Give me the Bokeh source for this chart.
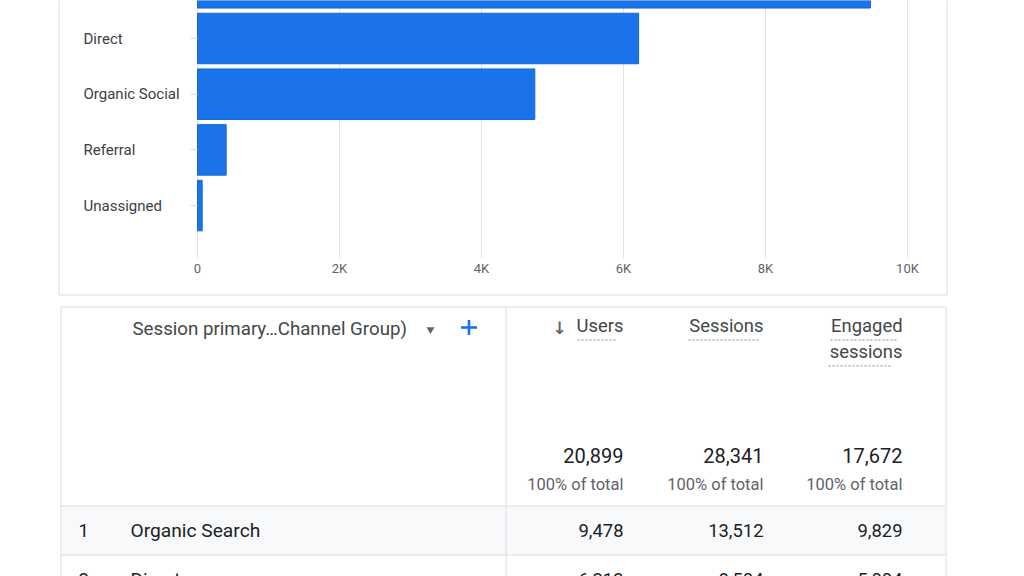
from bokeh.plotting import figure
from bokeh.models import Range1d, LinearAxis, FixedTicker, ColumnDataSource, CDSView, IndexFilter
from bokeh.core.properties import value
from bokeh.embed import file_html
from bokeh.resources import INLINE

# ---------------- data ----------------
channels = ["Organic Search", "Direct", "Organic Social", "Referral", "Unassigned"]
users = [9478, 6213, 4751, 404, 66]

x_ticks = [0, 2000, 4000, 6000, 8000, 10000]
x_tick_labels = ["0", "2K", "4K", "6K", "8K", "10K"]

table_dimension = "Session primary\u2026Channel Group)"
metric_names = ["Users", "Sessions", "Engaged sessions"]
metric_totals = [20899, 28341, 17672]
total_note = "100% of total"

table_rows = ["Organic Search", "Direct"]
table_users = [9478, 6213]
table_sessions = [13512, 8504]
table_engaged = [9829, 5004]

# ---------------- layout (page pixels) ----------------
W, H = 1024, 576
OX, OY = 0, 0
ZERO_PX, PX_PER_USER = 197.0, 0.071
ROW0_PX, ROW_STEP = -17.7, 55.7

FONT = "Roboto"
BLUE = "#1a73e8"
BORDER = "#dadce0"

p = figure(
    width=W, height=H, output_backend="svg", toolbar_location=None,
    x_range=Range1d((OX - ZERO_PX) / PX_PER_USER, (OX + W - ZERO_PX) / PX_PER_USER),
    y_range=Range1d((OY + H - ROW0_PX) / ROW_STEP, (OY - ROW0_PX) / ROW_STEP),
    x_axis_type=None, y_axis_type=None, min_border=0,
    outline_line_color=None, background_fill_color="white", border_fill_color="white",
)
p.extra_x_ranges = {"px": Range1d(OX, OX + W)}
p.extra_y_ranges = {"px": Range1d(OY + H, OY)}


def seg(x0, y0, x1, y1, color=BORDER, width=1, dash="solid"):
    p.segment(x0=x0, y0=y0, x1=x1, y1=y1, x_range_name="px", y_range_name="px",
              line_color=color, line_width=width, line_dash=dash)


def txt(xs, ys, texts, size, color, align="left", font=FONT, style="normal"):
    p.text(x=xs, y=ys, text=texts, x_range_name="px", y_range_name="px",
           text_font=value(font), text_font_size=value(size), text_color=color,
           text_align=align, text_baseline="middle", text_font_style=style)


# ---------------- bar chart panel ----------------
# vertical grid lines (data ticks, px vertical extent)
p.segment(x0=x_ticks, x1=x_ticks, y0=[OY] * len(x_ticks), y1=[258] * len(x_ticks),
          y_range_name="px", line_color="#e3e3e3", line_width=1)

pos = list(range(len(channels)))
bar_src = ColumnDataSource(dict(pos=pos, users=users, name=channels))
p.hbar(y="pos", left=0, right="users", height=0.907, source=bar_src,
       fill_color=BLUE, line_color="#1666d8", line_width=1)

# category labels (left aligned, as in the reference); only rows whose label is on screen
visible = [i for i in pos if ROW0_PX + ROW_STEP * i - 8 > OY]
p.text(x=83, y="pos", text="name", source=bar_src, view=CDSView(filter=IndexFilter(visible)),
       x_range_name="px",
       text_font=value(FONT), text_font_size=value("15px"), text_color="#3c4043",
       text_align="left", text_baseline="middle")

yaxis = LinearAxis(
    x_range_name="px", fixed_location=ZERO_PX,
    ticker=FixedTicker(ticks=pos),
    axis_line_color=None, major_tick_out=7, major_tick_in=0,
    major_tick_line_color=BORDER, minor_tick_line_color=None,
    major_label_text_color=None, major_label_text_font_size="0px",
)
p.add_layout(yaxis, "left")

xaxis = LinearAxis(
    y_range_name="px", fixed_location=258,
    ticker=FixedTicker(ticks=x_ticks),
    major_label_overrides={t: l for t, l in zip(x_ticks, x_tick_labels)},
    axis_line_color=None, major_tick_out=0, major_tick_in=0,
    major_tick_line_color=None, minor_tick_line_color=None,
    major_label_standoff=2, major_label_text_font=FONT,
    major_label_text_font_size="13px", major_label_text_color="#5f6368",
)
p.add_layout(xaxis, "below")

# panel border (top edge is off-screen)
seg([58.5, 946.5, 58.5], [OY, OY, 294.5], [58.5, 946.5, 946.5], [294.5, 294.5, 294.5])

# ---------------- table panel ----------------
ROW_Y0, ROW_H = 505.5, 49
p.quad(left=[61], right=[945], top=[ROW_Y0 + 0.5], bottom=[ROW_Y0 + ROW_H - 0.5],
       x_range_name="px", y_range_name="px", fill_color="#f8f9fa", line_color=None)

seg([60.5, 945.5, 60.5, 505.5, 60.5, 60.5],
    [306.5, 306.5, 306.5, 306.5, ROW_Y0, ROW_Y0 + ROW_H],
    [60.5, 945.5, 945.5, 505.5, 945.5, 945.5],
    [OY + H, OY + H, 306.5, OY + H, ROW_Y0, ROW_Y0 + ROW_H])

# dimension header
txt([132], [328], [table_dimension], "18.7px", "#444746")
p.scatter(x=[430], y=[329], marker="inverted_triangle", size=8, x_range_name="px",
          y_range_name="px", fill_color="#5f6368", line_color=None)
seg([460.5, 468.5], [327, 319.5], [476.5, 468.5], [327, 334.5], color=BLUE, width=2.6)

# metric headers
col_right = [623, 763, 902]
hx, hy, ht = [], [], []
for name, xr in zip(metric_names, col_right):
    lines = name.split(" ") if len(name) > 10 else [name]
    for k, line in enumerate(lines):
        hx.append(xr); hy.append(325 + 26 * k); ht.append(line)
txt(hx, hy, ht, "18.4px", "#444746", align="right")
txt([559], [327], ["\u2193"], "17px", "#5f6368", align="center", font="DejaVu Sans", style="bold")
seg([577, 688, 830, 828], [339.5, 339.5, 339.5, 365.5], [617, 760, 897, 892],
    [339.5, 339.5, 339.5, 365.5], color="#80868b", width=1, dash="2 2")

# totals
txt(col_right, [455] * 3, [f"{v:,}" for v in metric_totals], "20px", "#202124", align="right")
txt(col_right, [483.5] * 3, [total_note] * 3, "16.5px", "#5f6368", align="right")

# rows
for r, (name, u, s, e) in enumerate(zip(table_rows, table_users, table_sessions, table_engaged)):
    yc = ROW_Y0 + ROW_H * r + 24
    txt([78], [yc], [str(r + 1)], "18.5px", "#202124")
    txt([130], [yc], [name], "19.2px", "#202124")
    txt(col_right, [yc] * 3, [f"{u:,}", f"{s:,}", f"{e:,}"], "18.4px", "#202124", align="right")

open("out.html", "w").write(file_html(p, INLINE))
